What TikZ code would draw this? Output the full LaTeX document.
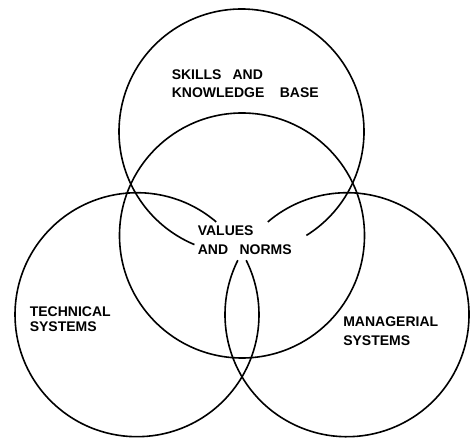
\documentclass[tikz,border=0pt]{standalone}
\usepackage{fontspec}
\setmainfont{Liberation Sans}
\usepackage{tikz}

\begin{document}
\begin{tikzpicture}
  [x=1pt,y=1pt,line width=1.6pt,
   venn label/.style={anchor=base west,inner sep=0pt,font=\bfseries\fontsize{14}{16}\selectfont}]
  \useasboundingbox (0,0) rectangle (470,439);

  % circle centres
  \coordinate (skills) at (241.5,307.5);
  \coordinate (values) at (242,203.5);
  \coordinate (tech) at (137,124.3);
  \coordinate (manag) at (347,124.3);

  % circles, broken round the centre text
  \draw ([shift={(-58:122.5pt)}]skills) arc[start angle=-58,end angle=247.4,radius=122.5pt];
  \draw (values) circle[radius=122.5pt];
  \draw ([shift={(49.5:122pt)}]tech) arc[start angle=49.5,end angle=386.5,radius=122pt];
  \draw ([shift={(153.5:122pt)}]manag) arc[start angle=153.5,end angle=490.5,radius=122pt];

  \node[venn label] (s1) at (171,359) {SKILLS\hspace{11pt}AND};
  \node[venn label] (s2) at (171,341.5) {KNOWLEDGE\hspace{15.5pt}BASE};

  \node[venn label] (v1) at (197,203) {VALUES};
  \node[venn label] (v2) at (197,184) {AND\hspace{11.5pt}NORMS};

  \node[venn label] (t1) at (29,122.3) {TECHNICAL};
  \node[venn label] (t2) at (29,107.3) {SYSTEMS};

  \node[venn label] (m1) at (342.5,112.3) {MANAGERIAL};
  \node[venn label] (m2) at (342.5,94) {SYSTEMS};
\end{tikzpicture}
\end{document}
